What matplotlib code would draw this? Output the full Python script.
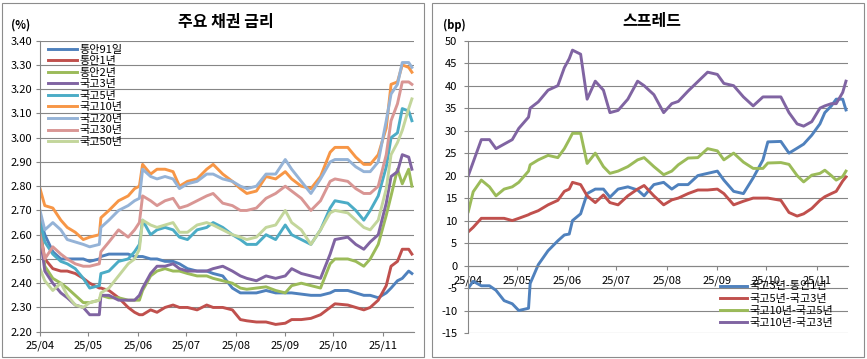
import matplotlib
matplotlib.use('Agg')
import matplotlib.pyplot as plt
import pandas as pd
from matplotlib.patches import Rectangle

plt.rcParams['font.family'] = ['Noto Sans CJK KR', 'DejaVu Sans']

dates = ['2025-04-01', '2025-04-04', '2025-04-09', '2025-04-14', '2025-04-18', '2025-04-23',
         '2025-04-28', '2025-05-02', '2025-05-08', '2025-05-09', '2025-05-14', '2025-05-20',
         '2025-05-26', '2025-05-30', '2025-06-02', '2025-06-04', '2025-06-09', '2025-06-13',
         '2025-06-18', '2025-06-23', '2025-06-27', '2025-07-02', '2025-07-08', '2025-07-14',
         '2025-07-18', '2025-07-24', '2025-07-30', '2025-08-04', '2025-08-08', '2025-08-14',
         '2025-08-20', '2025-08-26', '2025-09-01', '2025-09-05', '2025-09-11', '2025-09-17',
         '2025-09-23', '2025-09-29', '2025-10-02', '2025-10-10', '2025-10-15', '2025-10-20',
         '2025-10-24', '2025-10-29', '2025-11-03', '2025-11-06', '2025-11-10', '2025-11-13',
         '2025-11-17', '2025-11-19']

msb91d = [2.67, 2.60, 2.53, 2.50, 2.50, 2.50, 2.50, 2.49, 2.50, 2.51, 2.52, 2.52, 2.52, 2.51,
          2.51, 2.51, 2.50, 2.50, 2.49, 2.49, 2.48, 2.46, 2.45, 2.45, 2.44, 2.43, 2.38, 2.36,
          2.36, 2.36, 2.37, 2.36, 2.36, 2.36, 2.355, 2.35, 2.35, 2.36, 2.37, 2.37, 2.36, 2.35,
          2.35, 2.34, 2.36, 2.38, 2.41, 2.42, 2.45, 2.44]
msb1y = [2.62, 2.50, 2.46, 2.45, 2.45, 2.44, 2.42, 2.40, 2.38, 2.38, 2.37, 2.34, 2.30, 2.28,
         2.27, 2.27, 2.29, 2.28, 2.30, 2.31, 2.30, 2.30, 2.29, 2.31, 2.30, 2.30, 2.29, 2.25,
         2.245, 2.24, 2.24, 2.23, 2.235, 2.25, 2.25, 2.255, 2.27, 2.30, 2.315, 2.31, 2.30, 2.29,
         2.30, 2.33, 2.39, 2.47, 2.49, 2.54, 2.54, 2.52]
msb2y = [2.63, 2.47, 2.42, 2.40, 2.38, 2.35, 2.32, 2.32, 2.33, 2.35, 2.34, 2.34, 2.33, 2.33,
         2.33, 2.37, 2.43, 2.45, 2.46, 2.45, 2.45, 2.44, 2.43, 2.43, 2.42, 2.41, 2.40, 2.38,
         2.375, 2.38, 2.385, 2.37, 2.36, 2.39, 2.40, 2.39, 2.38, 2.48, 2.50, 2.50, 2.49, 2.47,
         2.50, 2.56, 2.68, 2.76, 2.87, 2.81, 2.87, 2.80]
ktb3y = [2.60, 2.45, 2.40, 2.36, 2.34, 2.31, 2.30, 2.27, 2.27, 2.35, 2.35, 2.33, 2.33, 2.33,
         2.35, 2.38, 2.44, 2.47, 2.47, 2.48, 2.46, 2.45, 2.45, 2.45, 2.46, 2.47, 2.45, 2.43,
         2.42, 2.41, 2.43, 2.42, 2.43, 2.46, 2.44, 2.43, 2.42, 2.52, 2.58, 2.59, 2.56, 2.54,
         2.57, 2.60, 2.73, 2.84, 2.86, 2.93, 2.92, 2.87]
ktb5y = [2.66, 2.57, 2.52, 2.49, 2.48, 2.46, 2.42, 2.38, 2.39, 2.44, 2.45, 2.49, 2.50, 2.53,
         2.56, 2.66, 2.60, 2.62, 2.63, 2.62, 2.59, 2.58, 2.62, 2.63, 2.65, 2.63, 2.60, 2.58,
         2.56, 2.56, 2.60, 2.58, 2.64, 2.60, 2.58, 2.56, 2.62, 2.71, 2.74, 2.73, 2.70, 2.66,
         2.70, 2.76, 2.88, 3.00, 3.02, 3.12, 3.11, 3.07]
ktb10y = [2.79, 2.72, 2.71, 2.66, 2.63, 2.61, 2.58, 2.59, 2.60, 2.67, 2.70, 2.74, 2.76, 2.79,
          2.80, 2.89, 2.85, 2.87, 2.87, 2.86, 2.80, 2.82, 2.83, 2.87, 2.89, 2.85, 2.82, 2.79,
          2.77, 2.78, 2.84, 2.83, 2.86, 2.83, 2.80, 2.79, 2.84, 2.94, 2.96, 2.96, 2.92, 2.89,
          2.89, 2.93, 3.04, 3.22, 3.23, 3.30, 3.29, 3.27]
ktb20y = [2.70, 2.62, 2.65, 2.62, 2.58, 2.57, 2.56, 2.55, 2.56, 2.63, 2.66, 2.70, 2.72, 2.74,
          2.75, 2.87, 2.84, 2.83, 2.84, 2.83, 2.79, 2.81, 2.82, 2.85, 2.85, 2.83, 2.82, 2.80,
          2.79, 2.80, 2.85, 2.85, 2.91, 2.87, 2.82, 2.77, 2.83, 2.90, 2.91, 2.91, 2.88, 2.86,
          2.86, 2.90, 3.07, 3.18, 3.22, 3.31, 3.31, 3.29]
ktb30y = [2.60, 2.50, 2.55, 2.52, 2.50, 2.48, 2.47, 2.47, 2.48, 2.53, 2.57, 2.62, 2.59, 2.62,
          2.65, 2.76, 2.74, 2.72, 2.74, 2.75, 2.71, 2.72, 2.74, 2.76, 2.77, 2.73, 2.72, 2.70,
          2.70, 2.71, 2.75, 2.77, 2.80, 2.78, 2.75, 2.70, 2.74, 2.82, 2.83, 2.82, 2.79, 2.77,
          2.77, 2.80, 2.93, 3.07, 3.14, 3.23, 3.23, 3.22]
ktb50y = [2.46, 2.41, 2.37, 2.40, 2.35, 2.31, 2.30, 2.32, 2.33, 2.36, 2.38, 2.43, 2.48, 2.50,
          2.54, 2.66, 2.64, 2.63, 2.64, 2.65, 2.61, 2.61, 2.64, 2.65, 2.64, 2.62, 2.60, 2.59,
          2.58, 2.59, 2.63, 2.64, 2.70, 2.65, 2.62, 2.56, 2.62, 2.69, 2.70, 2.69, 2.66, 2.63,
          2.62, 2.66, 2.79, 2.93, 2.98, 3.03, 3.12, 3.16]

sp_3y_1y = [-5, -3.5, -4.5, -4.5, -5.5, -7.8, -8.5, -10, -9.5, -4, 0.2, 3.3, 5.5, 6.8,
            7, 10, 11.5, 16, 17, 17, 15.2, 17, 17.5, 16.8, 15.5, 18, 18.5, 17,
            18, 18, 20, 20.5, 21, 19, 16.5, 16, 19.5, 23.5, 27.5, 27.6, 25, 26.1,
            27, 29, 31.5, 34, 35.5, 37, 37, 34.6]
sp_5y_3y = [7.5, 8.5, 10.5, 10.5, 10.5, 10.5, 10, 10.5, 11.3, 11.5, 12.2, 13.5, 14.5, 16.5,
            17, 18.5, 18, 15.5, 14, 15.7, 14, 13.5, 15.5, 17, 17.8, 15.5, 13.5, 14.6,
            15, 16, 16.8, 16.8, 17, 16, 13.5, 14.3, 15, 15, 15, 14.5, 11.8, 11,
            11.5, 12.7, 14.5, 15.3, 16, 16.5, 18.8, 19.7]
sp_10y_5y = [12, 16.4, 19, 17.5, 15.5, 17, 17.5, 18.5, 21, 22.4, 23.5, 24.5, 24, 26,
             28, 29.4, 29.4, 22.7, 25, 22, 20.5, 21, 22, 23.5, 24, 22, 20.2, 21,
             22.4, 23.9, 24, 26, 25.5, 23.5, 25, 23, 21.6, 21.6, 22.8, 22.9, 22.5, 20,
             18.6, 20.1, 20.5, 21.2, 20, 19, 19.8, 21]
sp_10y_3y = [20, 23, 28, 28, 26, 27, 28, 30.5, 33, 35, 36.4, 39, 40, 44,
             46, 47.9, 47, 37, 41, 39, 34, 34.5, 37, 41, 40, 38, 34, 36,
             36.5, 38.8, 40.9, 43, 42.5, 40.5, 40, 37.5, 35.5, 37.5, 37.5, 37.5, 34, 31.5,
             31, 32, 35, 35.5, 36, 36, 38.5, 41]

rate_names = ['통안91일', '통안1년', '통안2년', '국고3년', '국고5년', '국고10년', '국고20년', '국고30년', '국고50년']
rate_series = [msb91d, msb1y, msb2y, ktb3y, ktb5y, ktb10y, ktb20y, ktb30y, ktb50y]
rate_colors = ['#4F81BD', '#C0504D', '#9BBB59', '#8064A2', '#4BACC6', '#F79646', '#95B3D7', '#D99694', '#C3D69B']

spread_names = ['국고3년-통안1년', '국고5년-국고3년', '국고10년-국고5년', '국고10년-국고3년']
spread_series = [sp_3y_1y, sp_5y_3y, sp_10y_5y, sp_10y_3y]
spread_colors = ['#4F81BD', '#C0504D', '#9BBB59', '#8064A2']

month_ticks = ['2025-04-01', '2025-05-01', '2025-06-01', '2025-07-01', '2025-08-01',
               '2025-09-01', '2025-10-01', '2025-11-01']
month_labels = ['25/04', '25/05', '25/06', '25/07', '25/08', '25/09', '25/10', '25/11']
rate_yticks = [2.20, 2.30, 2.40, 2.50, 2.60, 2.70, 2.80, 2.90, 3.00, 3.10, 3.20, 3.30, 3.40]
spread_yticks = [-15, -10, -5, 0, 5, 10, 15, 20, 25, 30, 35, 40, 45, 50]

x = pd.to_datetime(dates)
xt = pd.to_datetime(month_ticks)
xlim = (pd.Timestamp('2025-04-01'), pd.Timestamp('2025-11-20'))

W, H = 867, 359
fig = plt.figure(figsize=(W / 100, H / 100), dpi=100)
fig.patch.set_facecolor('white')


def fx(px):
    return px / W


def fy(py):
    return 1 - py / H


GRID = '#868686'
LW = 2.1

# frames of the two chart objects
for (x0, x1) in [(2, 424), (432, 864)]:
    fig.add_artist(Rectangle((fx(x0), fy(357)), fx(x1) - fx(x0), (357 - 3) / H,
                             transform=fig.transFigure, fill=False,
                             edgecolor='#8C8C8C', lw=0.8))

axL = fig.add_axes([fx(40), fy(331.7), fx(413.5) - fx(40), (331.7 - 40.7) / H])
axR = fig.add_axes([fx(468.3), fy(333), fx(847.6) - fx(468.3), (333 - 40.7) / H])

for name, vals, col in zip(rate_names, rate_series, rate_colors):
    axL.plot(x, vals, color=col, lw=LW, label=name, solid_joinstyle='round')

for name, vals, col in zip(spread_names, spread_series, spread_colors):
    axR.plot(x, vals, color=col, lw=LW, label=name, solid_joinstyle='round')

# left axes styling
axL.set_xlim(*xlim)
axL.set_ylim(2.20, 3.40)
axL.set_yticks(rate_yticks)
axL.set_yticklabels(['%.2f' % v for v in rate_yticks])
axL.set_xticks(xt)
axL.set_xticklabels(month_labels)
axL.yaxis.grid(True, color=GRID, lw=0.8)
axL.set_axisbelow(True)
for s in ['top', 'right']:
    axL.spines[s].set_visible(False)
for s in ['left', 'bottom']:
    axL.spines[s].set_color(GRID)
    axL.spines[s].set_linewidth(0.8)
axL.tick_params(axis='x', direction='out', length=3, width=0.8, color=GRID, pad=3.5, labelsize=8)
axL.tick_params(axis='y', direction='out', length=3, width=0.8, color=GRID, pad=2.8, labelsize=8)

# right axes styling
axR.set_xlim(*xlim)
axR.set_ylim(-15, 50)
axR.set_yticks(spread_yticks)
axR.set_yticklabels([str(v) for v in spread_yticks])
axR.set_xticks(xt)
axR.set_xticklabels(month_labels)
axR.yaxis.grid(True, color=GRID, lw=0.8)
axR.set_axisbelow(True)
axR.spines['bottom'].set_position(('data', 0))
for s in ['top', 'right']:
    axR.spines[s].set_visible(False)
for s in ['left', 'bottom']:
    axR.spines[s].set_color(GRID)
    axR.spines[s].set_linewidth(0.8)
axR.tick_params(axis='x', direction='out', length=3, width=0.8, color=GRID, pad=4, labelsize=8)
axR.tick_params(axis='y', direction='out', length=3, width=0.8, color=GRID, pad=5, labelsize=8)

# legends
legL = axL.legend(loc='upper left', bbox_to_anchor=(fx(48), fy(44.5)), bbox_transform=fig.transFigure,
                  frameon=False, fontsize=8, handlelength=2.6, handletextpad=0.2,
                  labelspacing=0.14, borderpad=0, borderaxespad=0)
legR = axR.legend(loc='upper left', bbox_to_anchor=(fx(720), fy(281.5)), bbox_transform=fig.transFigure,
                  frameon=False, fontsize=8, handlelength=2.4, handletextpad=0.25,
                  labelspacing=0.19, borderpad=0, borderaxespad=0)

# titles and unit labels
fig.text(fx(226), fy(22), '주요 채권 금리', ha='center', va='center', fontsize=11.5, fontweight='bold')
fig.text(fx(652), fy(21), '스프레드', ha='center', va='center', fontsize=11.5, fontweight='bold')
fig.text(fx(21), fy(25), '(%)', ha='center', va='center', fontsize=8, fontweight='bold')
fig.text(fx(454), fy(25), '(bp)', ha='center', va='center', fontsize=8, fontweight='bold')

fig.savefig('out.png', dpi=100, facecolor='white')
